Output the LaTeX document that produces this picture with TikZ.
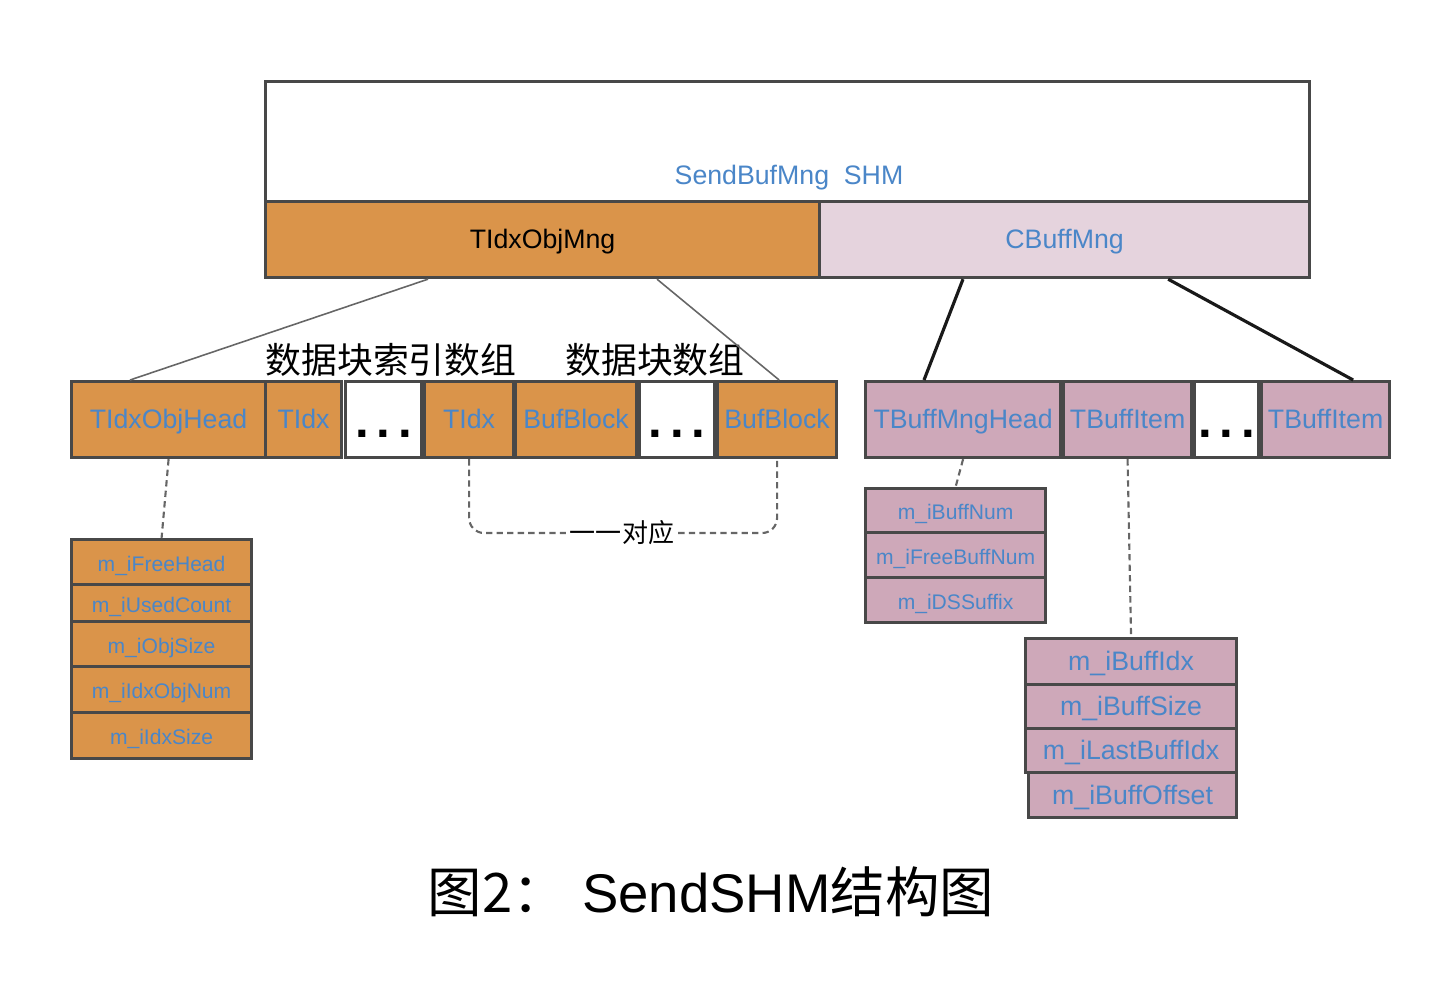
\documentclass[tikz,border=0pt]{standalone}
\usepackage{fontspec}
\setmainfont{Liberation Sans}
\newfontfamily\cjk{Noto Sans CJK SC}
\usetikzlibrary{calc}
\definecolor{blockorange}{RGB}{218,148,74}
\definecolor{itempink}{RGB}{206,168,185}
\definecolor{mngpink}{RGB}{229,211,221}
\definecolor{labelblue}{RGB}{74,134,200}
\definecolor{edgegray}{RGB}{72,72,72}
\def\cell[#1](#2)(#3,#4)(#5,#6)#7{\node[#1, anchor=north west, minimum width={(#5-#3)*0.1mm}, minimum height={(#6-#4)*0.1mm}] (#2) at (#3,#4) {#7};}
\def\gapdots{.\hspace{2.2pt}.\hspace{2.2pt}.}
\tikzset{
	box/.style={draw=edgegray, line width=0.9pt, inner sep=0pt, text=labelblue, text height=0.72em, text depth=0.2em, font=\fontsize{7.6}{9}\selectfont},
	wbox/.style={box, fill=white},
	obox/.style={box, fill=blockorange},
	mbox/.style={box, fill=mngpink},
	pbox/.style={box, fill=itempink},
	dotbox/.style={box, fill=white, text=black, text height=3.5mm, text depth=0pt, font=\fontsize{14}{14}\selectfont\bfseries},
	ofield/.style={obox, font=\fontsize{6}{7}\selectfont},
	pfield/.style={pbox, font=\fontsize{6}{7}\selectfont},
	bigfield/.style={pbox, font=\fontsize{7.6}{9}\selectfont},
	cnlabel/.style={font=\cjk\fontsize{10.2}{12}\selectfont},
	thinlink/.style={draw=black!60, line width=0.45pt},
	thicklink/.style={draw=black!90, line width=0.9pt},
	dashlink/.style={draw=black!60, line width=0.6pt, dash pattern=on 1.8pt off 1.2pt}
}

\begin{document}
\begin{tikzpicture}[x=0.1mm, y=-0.1mm]
			%%%%% START %%%%%
			\useasboundingbox (0,0) rectangle (1436,988);
			
			\cell[wbox](shm)(264,80)(1308,276){}
			\node[text=labelblue, font=\fontsize{7.6}{9}\selectfont] (shmlabel) at (789,178) {SendBufMng\ \ SHM};
			\cell[obox, text=black](objmng)(264,200)(818,276){TIdxObjMng}
			\cell[mbox](buffmng)(818,200)(1308,276){CBuffMng}
			
			\node[cnlabel] (idxarr) at (391,360) {数据块索引数组};
			\node[cnlabel] (bufarr) at (655,360) {数据块数组};
			
			\cell[obox](objhead)(70,380)(264,456){TIdxObjHead}
			\cell[obox](idxa)(264,380)(340,456){TIdx}
			\cell[dotbox](dotsa)(344,380)(420,456){\gapdots}
			\cell[obox](idxb)(423,380)(512,456){TIdx}
			\cell[obox](bufa)(514,380)(635,456){BufBlock}
			\cell[dotbox](dotsb)(638,380)(713,456){\gapdots}
			\cell[obox](bufb)(716,380)(835,456){BufBlock}
			
			\cell[pbox](mnghead)(864,380)(1059,456){TBuffMngHead}
			\cell[pbox](itema)(1062,380)(1190,456){TBuffItem}
			\cell[dotbox](dotsc)(1193,380)(1257,456){\gapdots}
			\cell[pbox](itemb)(1260,380)(1388,456){TBuffItem}
			
			\draw[thinlink] ([xshift=16.4mm]objmng.south west) -- ([xshift=6mm]objhead.north west);
			\draw[thinlink] ([xshift=39.3mm]objmng.south west) -- ([xshift=-5.9mm]bufb.north east);
			\draw[thicklink] ([xshift=14.5mm]buffmng.south west) -- ([xshift=6mm]mnghead.north west);
			\draw[thicklink] ([xshift=-14.3mm]buffmng.south east) -- ([xshift=-3.8mm]itemb.north east);
			
			% header fields
			\cell[ofield](freehead)(70,538)(250,583){m\_iFreeHead}
			\cell[ofield](usedcount)(70,583)(250,620){m\_iUsedCount}
			\cell[ofield](objsize)(70,620)(250,665){m\_iObjSize}
			\cell[ofield](idxobjnum)(70,665)(250,711){m\_iIdxObjNum}
			\cell[ofield](idxsize)(70,711)(250,757){m\_iIdxSize}
			
			\cell[pfield](buffnum)(864,487)(1044,531){m\_iBuffNum}
			\cell[pfield](freebuffnum)(864,531)(1044,576){m\_iFreeBuffNum}
			\cell[pfield](dssuffix)(864,576)(1044,621){m\_iDSSuffix}
			
			\cell[bigfield](buffidx)(1024,637)(1235,683){m\_iBuffIdx}
			\cell[bigfield](buffsize)(1024,683)(1235,727){m\_iBuffSize}
			\cell[bigfield](lastbuffidx)(1024,727)(1235,771){m\_iLastBuffIdx}
			\cell[bigfield](buffoffset)(1027,771)(1235,816){m\_iBuffOffset}
			
			\draw[dashlink] (objhead.south) -- (freehead.north);
			\draw[dashlink] (mnghead.south) -- (buffnum.north);
			\draw[dashlink] (itema.south) -- (buffidx.north);
			
			\node[fill=white, inner sep=1pt, font=\cjk\fontsize{7.4}{9}\selectfont] (match) at (622,533) {一一对应};
			\draw[dashlink, rounded corners=1.5mm] (idxb.south) |- (match.west);
			\draw[dashlink, rounded corners=1.5mm] (match.east) -| (bufb.south);
			
			\node[font=\fontsize{15.5}{18}\selectfont] (title) at (711,892) {{\cjk 图2：}\ SendSHM{\cjk 结构图}};
			
			%%%%% END %%%%%
\end{tikzpicture}
\end{document}
